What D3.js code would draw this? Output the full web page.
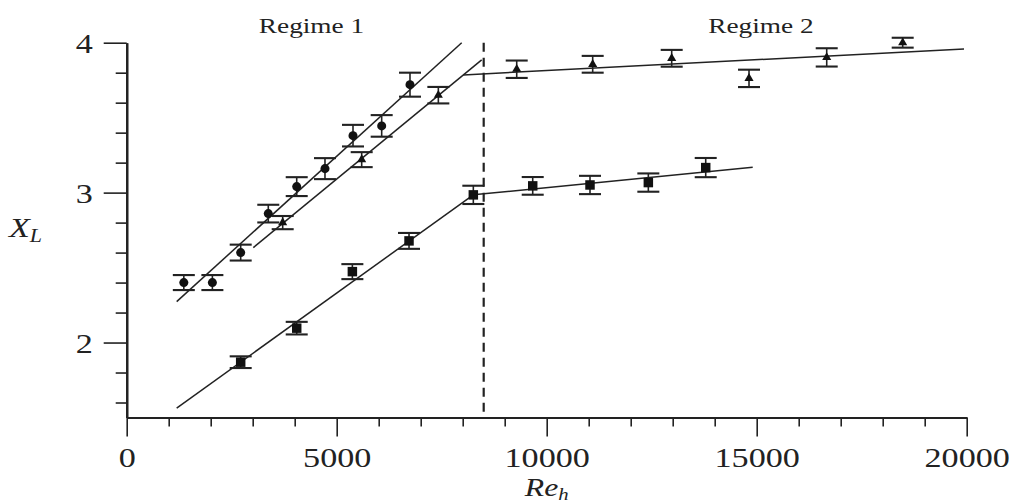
<!DOCTYPE html>
<html>
<head>
<meta charset="utf-8">
<script src="https://cdn.jsdelivr.net/npm/d3@7"></script>
<style>
  html, body { margin: 0; padding: 0; background: #fff; }
  svg { display: block; }
  text { font-family: "Liberation Serif", "Times New Roman", serif; fill: #222; }
</style>
</head>
<body>
<svg id="chart" width="1013" height="504"></svg>
<script>
// Re_h values and measured X_L with their error half-widths
const circleRe  = [1360, 2040, 2714, 3371, 4048, 4721, 5388, 6071, 6745];
const circleXL  = [2.40, 2.40, 2.60, 2.86, 3.04, 3.16, 3.38, 3.445, 3.72];
const circleErr = [0.05, 0.05, 0.053, 0.059, 0.063, 0.07, 0.072, 0.072, 0.08];

const triangleRe  = [3714, 5595, 7420, 9286, 11095, 12976, 14817, 16667, 18476];
const triangleXL  = [2.80, 3.22, 3.65, 3.823, 3.856, 3.896, 3.762, 3.902, 4.00];
const triangleErr = [0.044, 0.05, 0.055, 0.058, 0.056, 0.056, 0.058, 0.061, 0.033];

const squareRe  = [2714, 4048, 5373, 6722, 8253, 9667, 11031, 12420, 13786];
const squareXL  = [1.869, 2.096, 2.473, 2.678, 2.985, 3.045, 3.051, 3.067, 3.167];
const squareErr = [0.039, 0.042, 0.05, 0.053, 0.061, 0.059, 0.061, 0.061, 0.064];

// Linear fits, each as [[Re0, XL0], [Re1, XL1]]
const fitCircle    = [[1190, 2.273], [7976, 4.0]];
const fitTriangle1 = [[3014, 2.633], [8452, 3.885]];
const fitTriangle2 = [[8015, 3.785], [19936, 3.958]];
const fitSquare1   = [[1190, 1.563], [8253, 2.985]];
const fitSquare2   = [[8253, 2.985], [14905, 3.170]];

// Regime boundary
const transitionRe = 8500;

// Axis ticks and labels
const xMajorTicks = [0, 5000, 10000, 15000, 20000];
const xMinorTicks = [1000, 2000, 3000, 4000, 6000, 7000, 8000, 9000, 11000, 12000,
                     13000, 14000, 16000, 17000, 18000, 19000];
const yMajorTicks = [2, 3, 4];
const yMinorTicks = [1.6, 1.8, 2.2, 2.4, 2.6, 2.8, 3.2, 3.4, 3.6, 3.8];
const regimeLabels = ["Regime 1", "Regime 2"];
const regimeLabelRe = [4400, 15100];

const svg = d3.select("#chart");
const ink = "#222";
const stretch = 1.22;

const x = d3.scaleLinear().domain([0, 20000]).range([126.7, 966.7]);
const y = d3.scaleLinear().domain([1.5, 4]).range([417.5, 42.7]);

// Axes: minor and major ticks each get their own group
const xMinorG = svg.append("g").attr("transform", `translate(0,${y(1.5)})`)
  .call(d3.axisBottom(x).tickValues(xMinorTicks).tickSize(9).tickSizeOuter(0).tickFormat(""));
const xAxisG = svg.append("g").attr("transform", `translate(0,${y(1.5)})`)
  .call(d3.axisBottom(x).tickValues(xMajorTicks).tickSize(19).tickSizeOuter(0)
    .tickFormat(d3.format("d")).tickPadding(11));

const yMinorG = svg.append("g").attr("transform", `translate(${x(0)},0)`)
  .call(d3.axisLeft(y).tickValues(yMinorTicks).tickSize(11).tickSizeOuter(0).tickFormat(""));
const yAxisG = svg.append("g").attr("transform", `translate(${x(0)},0)`)
  .call(d3.axisLeft(y).tickValues(yMajorTicks).tickSize(23).tickSizeOuter(0)
    .tickFormat(d3.format("d")).tickPadding(11));

svg.selectAll(".domain").attr("stroke", ink).attr("stroke-width", 2.2);
svg.selectAll(".tick line").attr("stroke", ink).attr("stroke-width", 1.6);

xAxisG.selectAll(".tick text")
  .attr("font-size", 28).attr("font-family", "Liberation Serif").attr("fill", ink)
  .attr("dy", "0.71em")
  .attr("transform", `scale(${stretch},1)`);

yAxisG.selectAll(".tick text").each(function () {
  const t = d3.select(this);
  const xPos = +t.attr("x");
  t.attr("x", xPos / stretch)
   .attr("transform", `scale(${stretch},1)`)
   .attr("font-size", 28).attr("font-family", "Liberation Serif").attr("fill", ink)
   .attr("dy", "0.34em");
});

// Regime boundary (dashed)
svg.append("line")
  .attr("x1", x(transitionRe)).attr("x2", x(transitionRe))
  .attr("y1", y(4)).attr("y2", y(1.5))
  .attr("stroke", ink).attr("stroke-width", 2.2)
  .attr("stroke-dasharray", "9,6");

// Fit lines
const fitLine = d3.line().x(d => x(d[0])).y(d => y(d[1]));
[fitCircle, fitTriangle1, fitTriangle2, fitSquare1, fitSquare2].forEach(seg => {
  svg.append("path").attr("d", fitLine(seg))
    .attr("fill", "none").attr("stroke", ink).attr("stroke-width", 1.5);
});

// Error bars + markers
function drawSeries(res, vals, errs, symbol, size) {
  const g = svg.append("g");
  const cap = 11;
  res.forEach((re, i) => {
    const cx = x(re), lo = y(vals[i] - errs[i]), hi = y(vals[i] + errs[i]);
    g.append("line").attr("x1", cx).attr("x2", cx).attr("y1", lo).attr("y2", hi)
      .attr("stroke", ink).attr("stroke-width", 1.6);
    g.append("line").attr("x1", cx - cap).attr("x2", cx + cap).attr("y1", lo).attr("y2", lo)
      .attr("stroke", ink).attr("stroke-width", 2.1);
    g.append("line").attr("x1", cx - cap).attr("x2", cx + cap).attr("y1", hi).attr("y2", hi)
      .attr("stroke", ink).attr("stroke-width", 2.1);
    g.append("path")
      .attr("d", d3.symbol().type(symbol).size(size)())
      .attr("transform", `translate(${cx},${y(vals[i])})`)
      .attr("fill", "#111");
  });
}
drawSeries(circleRe, circleXL, circleErr, d3.symbolCircle, 64);
drawSeries(triangleRe, triangleXL, triangleErr, d3.symbolTriangle, 36);
drawSeries(squareRe, squareXL, squareErr, d3.symbolSquare, 90);

// Regime labels
regimeLabels.forEach((label, i) => {
  svg.append("text")
    .attr("transform", `translate(${x(regimeLabelRe[i])},33) scale(1.3,1)`)
    .attr("text-anchor", "middle")
    .attr("font-size", 21)
    .attr("fill", "#333")
    .text(label);
});

// Axis titles
const yTitle = svg.append("text")
  .attr("transform", `translate(9,237) scale(${stretch},1)`)
  .attr("font-size", 28).attr("font-style", "italic");
yTitle.append("tspan").text("X");
yTitle.append("tspan").attr("font-size", 18).attr("dy", 5).text("L");

const xTitle = svg.append("text")
  .attr("transform", `translate(${(x(0) + x(20000)) / 2},496) scale(${stretch},1)`)
  .attr("text-anchor", "middle")
  .attr("font-size", 26).attr("font-style", "italic");
xTitle.append("tspan").text("Re");
xTitle.append("tspan").attr("font-size", 17).attr("dy", 4).text("h");
</script>
</body>
</html>
